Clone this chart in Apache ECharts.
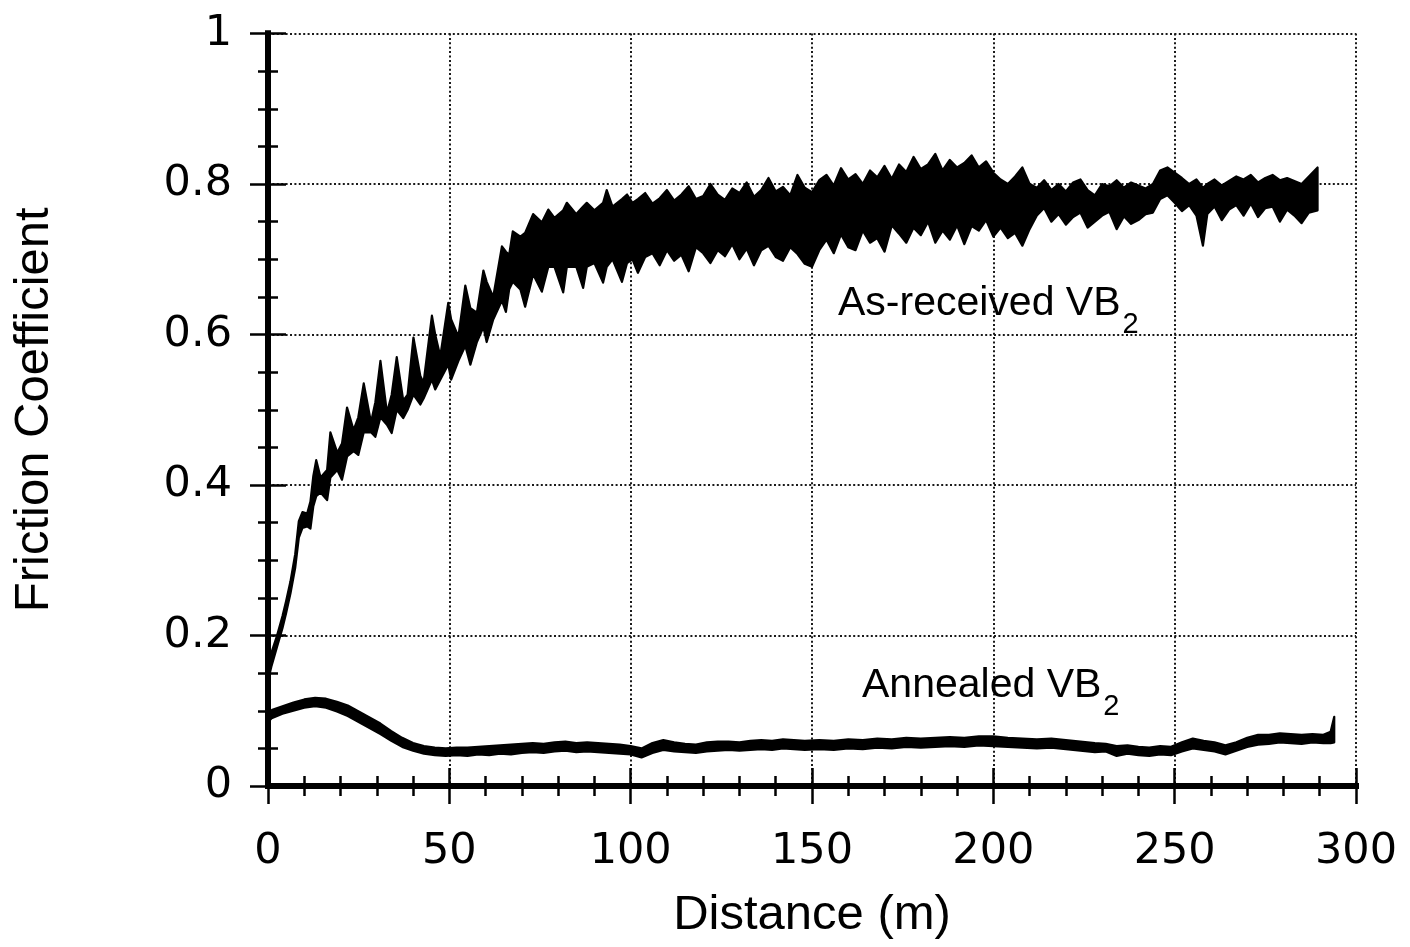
<!DOCTYPE html>
<html>
<head>
<meta charset="utf-8">
<script src="https://cdn.jsdelivr.net/npm/echarts@6/dist/echarts.min.js"></script>
<style>
html,body{margin:0;padding:0;background:#fff;}
#chart{width:1410px;height:947px;}
</style>
</head>
<body>
<div id="chart"></div>
<script>
// ---- As-received VB2: band (lower / upper envelope of the oscillating signal) ----
const arDist = [0,1,2.5,4,5,6.2,7.5,8.5,9.5,10.8,11.7,12.5,13.3,14.5,16.3,17.2,19.1,20.4,21.8,23.6,24.9,26.4,28.4,29.6,31,32.8,34.1,35.5,37.3,38.5,40.1,42,42.9,45.2,46.1,47.5,49.7,50.5,52.5,54.4,55.8,57.6,59.4,60.3,62.1,64.5,65.6,66.5,67.5,69.6,70.9,73.1,75.5,77.3,79,81.4,82.4,85,86.9,87.9,90,92.4,93.4,95,97.6,99,100.5,102,104,106,108,110,112,114,116,118,120,122,124,126,128,130,132,134,136,138,140,142,144,146,148,150,152,154,156,158,160,162,164,166,168,170,172,174,176,178,180,182,184,186,188,190,192,194,196,198,200,202,204,206,208,210,212,214,216,218,220,222,224,226,228,230,232,234,236,238,240,242,244,246,248,250,252,254,256,257.8,259,261,263,265,267,269,271,273,275,277,279,281,283,285,287,289.4];
const arLow = [0.140,0.160,0.185,0.210,0.230,0.256,0.290,0.330,0.343,0.345,0.342,0.372,0.385,0.390,0.380,0.410,0.420,0.407,0.438,0.445,0.440,0.470,0.470,0.464,0.490,0.480,0.469,0.500,0.489,0.500,0.520,0.507,0.515,0.540,0.527,0.540,0.560,0.540,0.565,0.585,0.560,0.590,0.610,0.590,0.620,0.645,0.630,0.660,0.670,0.660,0.637,0.680,0.657,0.690,0.690,0.656,0.690,0.690,0.662,0.690,0.695,0.669,0.690,0.700,0.670,0.695,0.700,0.682,0.703,0.708,0.692,0.712,0.698,0.706,0.684,0.716,0.708,0.695,0.712,0.704,0.720,0.700,0.714,0.692,0.712,0.718,0.703,0.698,0.716,0.707,0.694,0.690,0.712,0.726,0.708,0.733,0.716,0.712,0.738,0.722,0.728,0.710,0.745,0.734,0.722,0.742,0.732,0.750,0.722,0.738,0.726,0.745,0.720,0.744,0.738,0.752,0.730,0.742,0.728,0.735,0.718,0.740,0.758,0.768,0.750,0.760,0.746,0.756,0.762,0.742,0.750,0.758,0.763,0.740,0.757,0.747,0.752,0.760,0.762,0.780,0.785,0.775,0.764,0.772,0.758,0.718,0.760,0.770,0.752,0.766,0.772,0.758,0.774,0.756,0.768,0.770,0.750,0.766,0.758,0.748,0.762,0.765];
const arHigh = [0.158,0.178,0.200,0.226,0.246,0.272,0.308,0.352,0.364,0.362,0.378,0.412,0.433,0.410,0.420,0.470,0.443,0.455,0.503,0.473,0.490,0.535,0.483,0.510,0.565,0.496,0.520,0.570,0.512,0.520,0.596,0.545,0.536,0.625,0.600,0.571,0.642,0.620,0.597,0.665,0.635,0.629,0.685,0.670,0.650,0.717,0.710,0.706,0.737,0.730,0.735,0.760,0.749,0.766,0.755,0.765,0.775,0.760,0.770,0.775,0.765,0.775,0.792,0.770,0.780,0.786,0.775,0.780,0.788,0.774,0.781,0.792,0.778,0.786,0.797,0.780,0.784,0.800,0.786,0.779,0.794,0.788,0.802,0.783,0.792,0.808,0.790,0.796,0.785,0.812,0.795,0.789,0.805,0.812,0.798,0.821,0.806,0.813,0.800,0.818,0.809,0.824,0.807,0.826,0.816,0.836,0.820,0.826,0.840,0.818,0.832,0.822,0.828,0.838,0.822,0.830,0.815,0.806,0.800,0.810,0.822,0.800,0.795,0.805,0.792,0.800,0.790,0.802,0.806,0.792,0.785,0.800,0.797,0.805,0.795,0.802,0.798,0.794,0.800,0.818,0.822,0.815,0.808,0.800,0.806,0.795,0.800,0.806,0.798,0.804,0.810,0.806,0.812,0.802,0.808,0.812,0.805,0.808,0.804,0.800,0.810,0.822];

// ---- Annealed VB2 ----
const anDist = [0,1,4,7,10,13,16,19,22,25,28,31,34,37,40,43,46,49,52,55,58,61,64,67,70,73,76,79,82,85,88,91,94,97,100,103,106,109,112,115,118,121,124,127,130,133,136,139,142,145,148,152,156,160,164,168,172,176,180,184,188,192,196,200,204,208,212,216,220,224,228,231,234,237,240,243,246,249,252,255,258,261,264,267,270,273,276,279,282,285,288,291,293,294];
const anLow = [0.085,0.090,0.096,0.100,0.104,0.106,0.104,0.099,0.093,0.085,0.077,0.069,0.060,0.052,0.047,0.043,0.041,0.040,0.041,0.040,0.042,0.041,0.043,0.042,0.044,0.045,0.044,0.046,0.047,0.045,0.046,0.045,0.044,0.043,0.042,0.038,0.044,0.048,0.046,0.045,0.044,0.046,0.047,0.048,0.047,0.048,0.049,0.048,0.050,0.049,0.048,0.049,0.048,0.050,0.049,0.051,0.050,0.052,0.051,0.052,0.053,0.052,0.054,0.053,0.052,0.051,0.050,0.051,0.049,0.047,0.045,0.046,0.040,0.043,0.041,0.040,0.042,0.041,0.046,0.050,0.048,0.046,0.042,0.047,0.052,0.055,0.056,0.058,0.057,0.056,0.058,0.057,0.057,0.058];
const anHigh = [0.100,0.101,0.106,0.111,0.115,0.117,0.116,0.112,0.107,0.099,0.091,0.083,0.073,0.064,0.057,0.053,0.051,0.050,0.051,0.051,0.052,0.053,0.054,0.055,0.056,0.057,0.056,0.058,0.059,0.057,0.058,0.057,0.056,0.055,0.053,0.050,0.057,0.061,0.058,0.056,0.055,0.058,0.059,0.059,0.058,0.060,0.061,0.060,0.062,0.061,0.060,0.061,0.060,0.062,0.061,0.063,0.062,0.064,0.063,0.064,0.065,0.064,0.066,0.066,0.064,0.063,0.062,0.063,0.061,0.059,0.057,0.056,0.053,0.054,0.052,0.051,0.053,0.052,0.058,0.063,0.060,0.058,0.054,0.058,0.064,0.068,0.068,0.070,0.069,0.068,0.069,0.068,0.072,0.092];

// ---- axis ranges ----
const xRange = [0, 300];
const yRange = [0, 1];

const chart = echarts.init(document.getElementById('chart'), null, {renderer: 'canvas'});

function band(name, dist, low, high) {
  return {
    type: 'custom',
    name: name,
    coordinateSystem: 'cartesian2d',
    xAxisIndex: 0,
    yAxisIndex: 0,
    silent: true,
    animation: false,
    z: 5,
    data: dist.map((d, i) => [d, low[i], high[i]]),
    encode: {x: 0, y: [1, 2]},
    renderItem: function (params, api) {
      if (params.dataIndex !== 0) return null;
      const pts = [];
      for (let i = 0; i < dist.length; i++) pts.push(api.coord([dist[i], high[i]]));
      for (let i = dist.length - 1; i >= 0; i--) pts.push(api.coord([dist[i], low[i]]));
      return {
        type: 'polygon',
        shape: {points: pts},
        style: {fill: '#000', stroke: '#000', lineWidth: 2.2, lineJoin: 'round'}
      };
    }
  };
}

const frameLine = {show: true, lineStyle: {color: '#000', width: 6, cap: 'square'}};
const noLine = {show: false};
const majorTick = {show: true, inside: true, length: 18, lineStyle: {color: '#000', width: 2.5}};
const minorTick = {show: true, inside: true, length: 10, lineStyle: {color: '#000', width: 2.5}};
const dotted = {show: true, lineStyle: {color: '#1a1a1a', width: 2, type: [2, 2.4]}};
const tickFont = {fontFamily: 'DejaVu Sans', fontSize: 43, color: '#000'};

function plainX(pos, interval, line, tick) {
  return {type: 'value', position: pos, offset: 0, min: xRange[0], max: xRange[1], interval: interval,
    axisLine: line, axisTick: tick, splitLine: {show: false}, axisLabel: {show: false}};
}
function plainY(pos, interval, line, tick) {
  return {type: 'value', position: pos, offset: 0, min: yRange[0], max: yRange[1], interval: interval,
    axisLine: line, axisTick: tick, splitLine: {show: false}, axisLabel: {show: false}};
}

const subRich = {
  a: {fontFamily: 'Liberation Sans', fontSize: 41, lineHeight: 44, fill: '#000'},
  s: {fontFamily: 'Liberation Sans', fontSize: 29, lineHeight: 32, padding: [41, 0, 0, 2], fill: '#000'}
};

const option = {
  backgroundColor: '#fff',
  animation: false,
  grid: {left: 268, right: 54, top: 33.5, bottom: 161, containLabel: false},
  xAxis: [
    {
      type: 'value', position: 'bottom', offset: 0, min: xRange[0], max: xRange[1], interval: 50,
      axisLine: frameLine, axisTick: majorTick, splitLine: dotted,
      axisLabel: Object.assign({margin: 44}, tickFont),
      name: 'Distance (m)', nameLocation: 'middle', nameGap: 105,
      nameTextStyle: {fontFamily: 'Liberation Sans', fontSize: 49, color: '#000'}
    },
    plainX('top', 50, frameLine, majorTick),
    plainX('bottom', 10, noLine, minorTick),
    plainX('top', 10, noLine, minorTick)
  ],
  yAxis: [
    {
      type: 'value', position: 'left', offset: 0, min: yRange[0], max: yRange[1], interval: 0.2,
      axisLine: frameLine, axisTick: majorTick, splitLine: dotted,
      axisLabel: Object.assign({margin: 36}, tickFont),
      name: 'Friction Coefficient', nameLocation: 'middle', nameGap: 209, nameRotate: 90,
      nameTextStyle: {fontFamily: 'Liberation Sans', fontSize: 49, color: '#000'}
    },
    plainY('right', 0.2, frameLine, majorTick),
    plainY('left', 0.05, noLine, minorTick),
    plainY('right', 0.05, noLine, minorTick)
  ],
  graphic: [
    {type: 'text', left: 838, top: 269, z: 100, style: {text: '{a|As-received VB}{s|2}', rich: subRich}},
    {type: 'text', left: 862, top: 651, z: 100, style: {text: '{a|Annealed VB}{s|2}', rich: subRich}}
  ],
  series: [
    band('As-received VB2', arDist, arLow, arHigh),
    band('Annealed VB2', anDist, anLow, anHigh)
  ]
};

chart.setOption(option);
</script>
</body>
</html>
